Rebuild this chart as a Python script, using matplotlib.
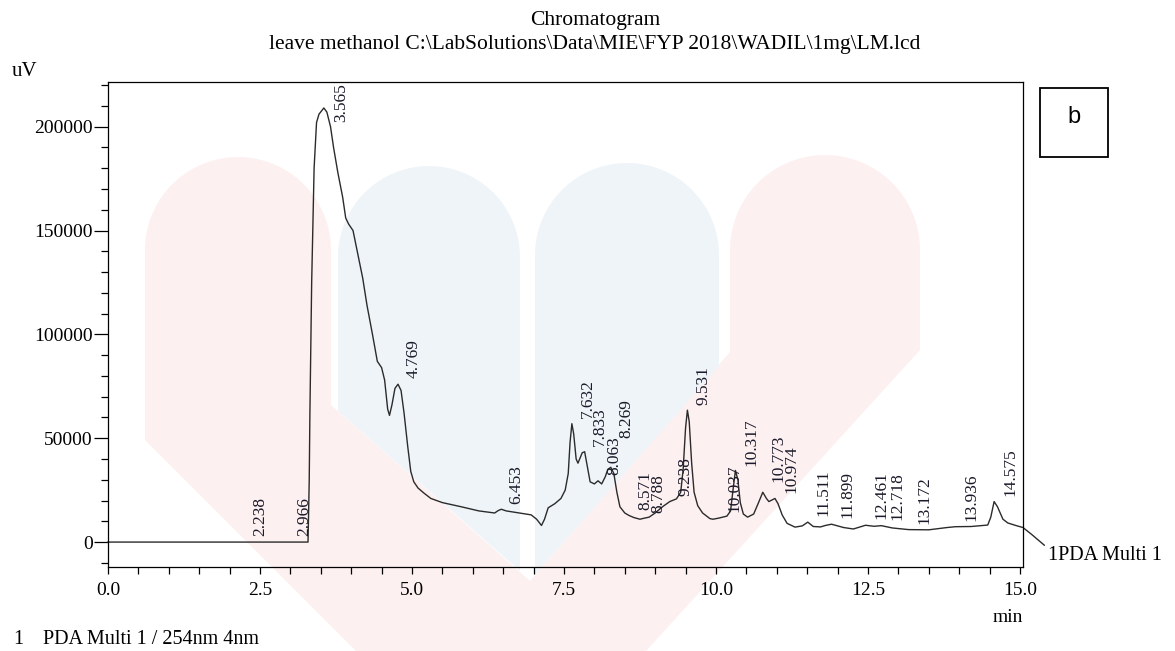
import matplotlib
matplotlib.use("Agg")
import matplotlib.pyplot as plt
from matplotlib.patches import Polygon, Rectangle
from matplotlib.ticker import MultipleLocator, FormatStrFormatter
import numpy as np

# retention time (min) and detector signal (uV)
time_min = [0.00, 2.20, 3.29, 3.31, 3.32, 3.35, 3.39, 3.43, 3.47, 3.55, 3.60, 3.66, 3.71, 3.78,
            3.86, 3.91, 3.96, 4.03, 4.10, 4.19, 4.26, 4.35, 4.43, 4.50, 4.55, 4.60, 4.63, 4.67,
            4.72, 4.77, 4.82, 4.87, 4.93, 4.98, 5.03, 5.10, 5.20, 5.31, 5.50, 5.81, 6.10, 6.36,
            6.42, 6.47, 6.55, 6.70, 6.96, 7.05, 7.13, 7.18, 7.24, 7.35, 7.45, 7.52, 7.57, 7.60,
            7.63, 7.66, 7.70, 7.73, 7.80, 7.84, 7.88, 7.93, 8.00, 8.06, 8.12, 8.18, 8.22, 8.27,
            8.32, 8.37, 8.42, 8.50, 8.57, 8.65, 8.75, 8.79, 8.90, 9.00, 9.12, 9.24, 9.35, 9.42,
            9.46, 9.50, 9.53, 9.56, 9.60, 9.64, 9.70, 9.78, 9.90, 9.95, 10.04, 10.18, 10.24,
            10.28, 10.32, 10.36, 10.40, 10.45, 10.52, 10.62, 10.70, 10.77, 10.83, 10.87, 10.97,
            11.02, 11.09, 11.17, 11.30, 11.42, 11.51, 11.60, 11.72, 11.80, 11.90, 12.00, 12.10,
            12.26, 12.46, 12.60, 12.72, 12.90, 13.17, 13.50, 13.80, 13.94, 14.20, 14.47, 14.52,
            14.575, 14.63, 14.72, 14.80, 14.93, 15.05, 15.20, 15.40]
signal_uv = [0, 0, 0, 30000, 60000, 125000, 180000, 202000, 206000, 209000, 207000, 200000,
             190000, 178000, 166000, 156000, 153000, 150000, 140000, 127000, 114000, 100000,
             87000, 84000, 78000, 64000, 61000, 66000, 74000, 76000, 73000, 62000, 46000, 34000,
             29000, 26000, 23500, 21000, 19000, 17000, 15000, 14000, 15200, 15800, 15000, 14300,
             13100, 11000, 8000, 11000, 16500, 18500, 21000, 25000, 33000, 48000, 57000, 52000,
             40000, 38000, 43000, 43500, 37000, 29000, 28000, 29500, 28000, 31500, 35000, 36000,
             33000, 24000, 17000, 14000, 12800, 11800, 11000, 11300, 12000, 14000, 17000, 19500,
             20800, 24000, 35000, 55000, 63500, 58000, 38000, 24000, 17500, 14000, 11300, 11000,
             11500, 12500, 15000, 25000, 34500, 30000, 19000, 13500, 12000, 13500, 19000, 24000,
             21000, 19500, 21000, 18500, 13000, 9000, 7200, 7800, 9600, 7500, 7300, 8000, 8600,
             7800, 7000, 6300, 8100, 7600, 7900, 6800, 6000, 5900, 7000, 7400, 7500, 8200, 12000,
             19500, 17000, 11000, 9200, 8000, 7000, 3500, -1500]

peak_times = [2.238, 2.966, 3.565, 4.769, 6.453, 7.632, 7.833, 8.063, 8.269, 8.571, 8.788,
              9.238, 9.531, 10.037, 10.317, 10.773, 10.974, 11.511, 11.899, 12.461, 12.718,
              13.172, 13.936, 14.575]
peak_labels = ["%.3f" % t for t in peak_times]

# labels that the integrator moved off the apex (vertical shift, points)
label_nudge = {"3.565": -13.7, "8.269": 16.5, "10.773": 3.0}

serif = "Liberation Serif"
W, H = 1175, 651

fig = plt.figure(figsize=(W / 100, H / 100), dpi=100)

# faint logo watermark behind the chart, drawn in pixel space
bg = fig.add_axes([0, 0, 1, 1])
bg.set_xlim(0, W)
bg.set_ylim(H, 0)
bg.axis("off")


def arc(cx, cy, r):
    a = np.linspace(np.pi, 2 * np.pi, 40)
    return list(zip(cx + r * np.cos(a), cy + r * np.sin(a)))


pink = "#fdf0f0"
blue = "#eff4f8"
w_shape = (arc(238, 250, 93) + [(331, 405), (530, 581), (730, 352)] + arc(825, 250, 95)
           + [(920, 350), (646, 651), (356, 651), (145, 440)])
bg.add_patch(Polygon(w_shape, closed=True, fc=pink, ec="none"))
col_b = arc(429, 257, 91) + [(520, 571), (338, 411)]
col_c = arc(627, 255, 92) + [(719, 366), (535, 575)]
bg.add_patch(Polygon(col_b, closed=True, fc=blue, ec="none"))
bg.add_patch(Polygon(col_c, closed=True, fc=blue, ec="none"))

# panel tag box
bg.add_patch(Rectangle((1040, 88), 68, 69, fill=False, lw=1.3, ec="black"))
bg.text(1074, 117, "b", family="Liberation Sans", fontsize=17, ha="center", va="center")

ax = fig.add_axes([108 / W, 1 - 567 / H, (1023 - 108) / W, (567 - 82) / H])
ax.patch.set_alpha(0)
ax.plot(time_min, signal_uv, color="#2b2b2b", lw=1.0, clip_on=False)
ax.set_xlim(0, 15.05)
ax.set_ylim(-12000, 221500)

ax.xaxis.set_major_locator(MultipleLocator(2.5))
ax.xaxis.set_minor_locator(MultipleLocator(0.5))
ax.xaxis.set_major_formatter(FormatStrFormatter("%.1f"))
ax.yaxis.set_major_locator(MultipleLocator(50000))
ax.yaxis.set_minor_locator(MultipleLocator(10000))
ax.tick_params(axis="y", which="major", direction="out", length=10, width=0.9, pad=1,
               labelsize=14)
ax.tick_params(axis="y", which="minor", direction="out", length=5, width=0.9)
ax.tick_params(axis="x", which="both", direction="out", length=5, width=0.9, pad=6,
               labelsize=14)
for lab in ax.get_xticklabels() + ax.get_yticklabels():
    lab.set_family(serif)
for s in ax.spines.values():
    s.set_linewidth(0.9)

for t, lab in zip(peak_times, peak_labels):
    v = np.interp(t, time_min, signal_uv)
    dy = 4.3 + label_nudge.get(lab, 0)
    ax.annotate(lab, xy=(t, v), xytext=(11.5, dy), textcoords="offset points",
                rotation=90, ha="center", va="bottom", fontsize=12.5, family=serif,
                color="#1a1a2a", annotation_clip=False)

fig.text(595 / W, 1 - 21 / H, "Chromatogram", ha="center", va="center",
         fontsize=15.5, family=serif)
fig.text(595 / W, 1 - 45 / H, r"leave methanol C:\LabSolutions\Data\MIE\FYP 2018\WADIL\1mg\LM.lcd",
         ha="center", va="center", fontsize=15.5, family=serif)
fig.text(12 / W, 1 - 71 / H, "uV", ha="left", va="center", fontsize=15, family=serif)
fig.text(1008 / W, 1 - 618 / H, "min", ha="center", va="center", fontsize=14, family=serif)
fig.text(1048 / W, 1 - 555 / H, "1PDA Multi 1", ha="left", va="center", fontsize=14.5,
         family=serif)
fig.text(13 / W, 1 - 640 / H, "1", ha="left", va="center", fontsize=14.5, family=serif)
fig.text(43 / W, 1 - 640 / H, "PDA Multi 1 / 254nm 4nm", ha="left", va="center",
         fontsize=14.5, family=serif)

fig.savefig("out.png", dpi=100)
